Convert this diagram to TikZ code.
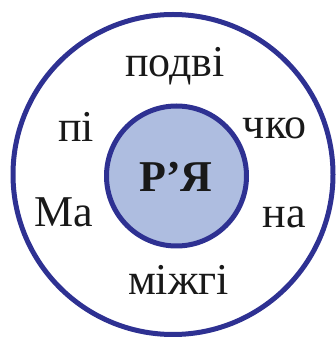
\documentclass[tikz,border=0pt]{standalone}
\usepackage{fontspec}
\setmainfont{Liberation Serif}
\usepackage{xcolor}
\usepackage{tikz}

\begin{document}
\begin{tikzpicture}[
      x=1pt,
      y=1pt,
      line join=round,
      line cap=round
  ]

  % Кольори кругів
  \definecolor{kolorain}{RGB}{46, 49, 146}
  \definecolor{kolofill}{RGB}{174, 189, 224}

  \tikzset{
      krug/.style={draw=kolorain, line width=5pt},
      slovo/.style={inner sep=0pt, anchor=base, font=\fontsize{44}{48}\selectfont, text=black!90}
  }

  \useasboundingbox (0, 0) rectangle (336, 337);

  % 1. Зовнішнє та внутрішнє коло
  \draw[krug] (173, 162.5) circle (160);
  \filldraw[krug, fill=kolofill] (176.5, 161) circle (70);

  % 2. Корінь у центрі
  \node[slovo, font=\fontsize{44}{48}\selectfont\bfseries] (korin) at (176, 145) {Р’Я};

  % 3. Частини слів навколо
  \node[slovo] (verh)   at (175, 260)   {подві};
  \node[slovo] (livverh) at (76, 195)   {пі};
  \node[slovo] (pravverh) at (274.5, 198) {чко};
  \node[slovo] (livniz) at (64, 110)    {Ма};
  \node[slovo] (pravniz) at (284, 109)  {на};
  \node[slovo] (niz)    at (178.5, 42)  {міжгі};

\end{tikzpicture}
\end{document}
